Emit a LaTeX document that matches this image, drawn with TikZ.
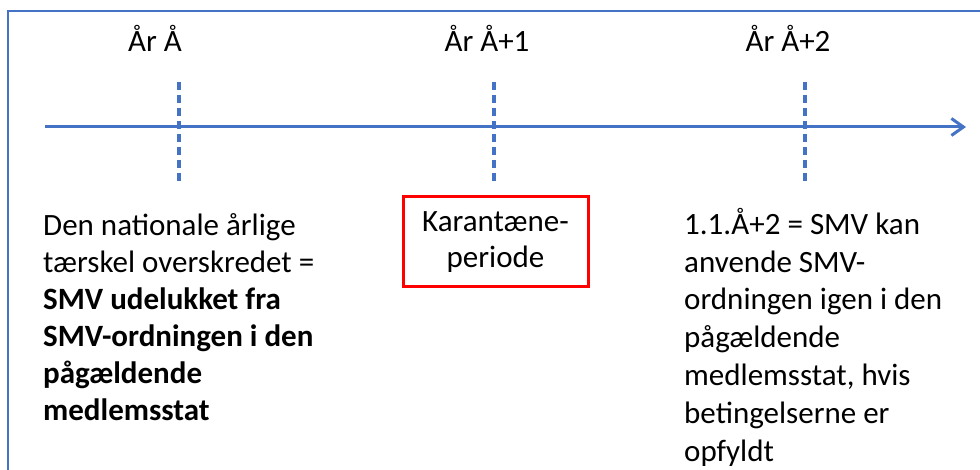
\documentclass[tikz,border=0pt]{standalone}
\usepackage{fontspec}
\setmainfont{Carlito}
\usetikzlibrary{arrows.meta}
\definecolor{tlblue}{HTML}{4472C4}
\definecolor{boxred}{HTML}{FF0000}
\begin{document}
\begin{tikzpicture}[x=1pt,y=-1pt,
  frame/.style={draw=tlblue,line width=2pt},
  timeline/.style={draw=tlblue,line width=3pt,-{Straight Barb[length=12pt,width=17pt]}},
  tick/.style={draw=tlblue,line width=3.5pt,dash pattern=on 8pt off 5pt},
  yearlbl/.style={font=\fontsize{31}{37}\selectfont,inner sep=0pt,anchor=base},
  para/.style={align=left,inner sep=0pt,anchor=base west},
  redbox/.style={draw=boxred,line width=3pt,minimum width=185pt,minimum height=90pt,align=center,font=\fontsize{31}{36}\selectfont}
]
\useasboundingbox (0,0) rectangle (980,470);
% frame (cut off at right and bottom)
\coordinate (fbl) at (8,472);
\coordinate (ftl) at (8,11);
\coordinate (ftr) at (982,11);
\draw[frame] (fbl) -- (ftl) -- (ftr);
% timeline
\coordinate (ts) at (45,127);
\coordinate (te) at (966,127);
\draw[timeline] (ts) -- (te);
% ticks
\foreach \n/\x in {a/179,b/494,c/805}{
  \coordinate (\n top) at (\x,82);
  \coordinate (\n bot) at (\x,184);
  \draw[tick] (\n top) -- (\n bot);
}
% year labels
\node[yearlbl] (y0) at (155,52) {År Å};
\node[yearlbl] (y1) at (487,52) {År Å+1};
\node[yearlbl] (y2) at (788,52) {År Å+2};
% left text (base anchor = baseline of the last line)
\node[para,font=\fontsize{31}{37}\selectfont] (left) at (43,420) {Den nationale årlige\\tærskel overskredet =\\\textbf{SMV udelukket fra}\\\textbf{SMV-ordningen i den}\\\textbf{pågældende}\\\textbf{medlemsstat}};
% red box
\node[redbox] (kar) at (495.5,242) {Karantæne-\\periode};
% right text
\node[para,font=\fontsize{31}{37.8}\selectfont] (right) at (684,461) {1.1.Å+2 = SMV kan\\anvende SMV-\\ordningen igen i den\\pågældende\\medlemsstat, hvis\\betingelserne er\\opfyldt};
\end{tikzpicture}
\end{document}
